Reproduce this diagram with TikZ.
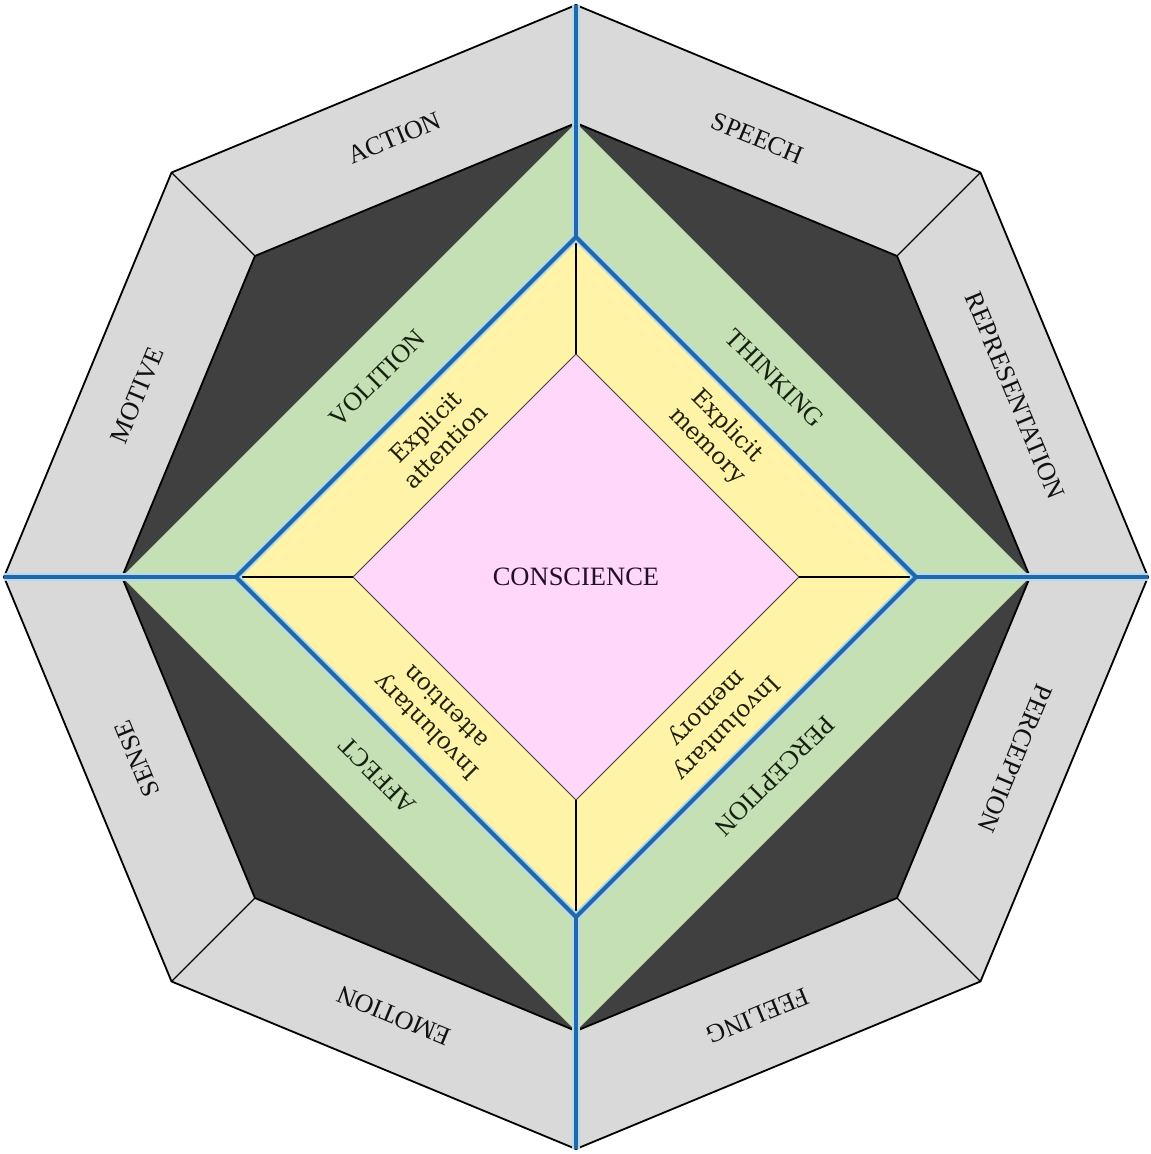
\documentclass[tikz,border=0pt]{standalone}
\usepackage{fontspec}
\setmainfont{Liberation Serif}
\newfontfamily\wideserif{DejaVu Serif}
\definecolor{bandgray}{HTML}{D9D9D9}
\definecolor{darkfill}{HTML}{404040}
\definecolor{greenfill}{HTML}{C5E0B4}
\definecolor{yellowfill}{HTML}{FFF3A8}
\definecolor{pinkfill}{HTML}{FFD7FA}
\definecolor{bluec}{HTML}{2068A6}
\definecolor{haloc}{HTML}{B4D8F2}
\definecolor{textc}{HTML}{111111}
\definecolor{greentext}{HTML}{16200F}
\definecolor{yellowtext}{HTML}{20200A}
\definecolor{pinktext}{HTML}{220F28}
\begin{document}
\begin{tikzpicture}[x=1pt,y=1pt,
  edge/.style={draw=black, line width=1.8pt, line join=miter},
  spoke/.style={draw=black, line width=1.3pt},
  halo/.style={draw=haloc, line width=8pt, line join=miter},
  blueline/.style={draw=bluec, line width=4.2pt, line join=miter},
  outerlab/.style={font=\fontsize{26}{30}\selectfont, text=textc, inner sep=0pt},
  greenlab/.style={font=\fontsize{26}{30}\selectfont, text=greentext, inner sep=0pt},
  yellowlab/.style={font=\wideserif\fontsize{23.5}{28}\selectfont, text=yellowtext, inner sep=0pt, align=center},
  centerlab/.style={font=\fontsize{26.5}{30}\selectfont, text=pinktext, inner sep=0pt}
]
\useasboundingbox (-576,-577) rectangle (575,577);
% named points
\foreach \a in {0,45,...,315} {
  \coordinate (o\a) at (\a:572);
  \coordinate (i\a) at (\a:454);
}
\foreach \a in {0,90,180,270} {
  \coordinate (y\a) at (\a:340);
  \coordinate (p\a) at (\a:223);
}
% outer gray band
\fill[bandgray] (o0) -- (o45) -- (o90) -- (o135) -- (o180) -- (o225) -- (o270) -- (o315) -- cycle;
\draw[edge] (o0) -- (o45) -- (o90) -- (o135) -- (o180) -- (o225) -- (o270) -- (o315) -- cycle;
% dark octagon
\fill[darkfill] (i0) -- (i45) -- (i90) -- (i135) -- (i180) -- (i225) -- (i270) -- (i315) -- cycle;
\draw[edge] (i0) -- (i45) -- (i90) -- (i135) -- (i180) -- (i225) -- (i270) -- (i315) -- cycle;
% diagonal spokes in the band
\foreach \a in {45,135,225,315} { \draw[spoke] (o\a) -- (i\a); }
% green diamond
\fill[greenfill] (i0) -- (i90) -- (i180) -- (i270) -- cycle;
% yellow diamond
\fill[yellowfill] (y0) -- (y90) -- (y180) -- (y270) -- cycle;
% pink diamond
\fill[pinkfill] (p0) -- (p90) -- (p180) -- (p270) -- cycle;
\draw[draw=black!75, line width=1pt] (p0) -- (p90) -- (p180) -- (p270) -- cycle;
% thin lines across yellow band
\foreach \a in {0,90,180,270} { \draw[spoke, line width=1.1pt] (y\a) -- (p\a); }
% blue lines with halo
\foreach \s in {halo, blueline} {
  \foreach \a in {0,90,180,270} { \draw[\s] (o\a) -- (y\a); }
  \draw[\s] (y0) -- (y90) -- (y180) -- (y270) -- cycle;
}
% outer labels
\foreach \a/\t in {112.5/ACTION, 67.5/SPEECH, 22.5/REPRESENTATION, -22.5/PERCEPTION,
                   -67.5/FEELING, -112.5/EMOTION, -157.5/SENSE, 157.5/MOTIVE} {
  \node[outerlab, rotate=\a-90] (out\t) at (\a:475) {\t};
}
% green labels
\node[greenlab, rotate=45]   (gVol)  at (135:281) {VOLITION};
\node[greenlab, rotate=-45]  (gThi)  at (45:281)  {THINKING};
\node[greenlab, rotate=-135] (gPer)  at (-45:281) {PERCEPTION};
\node[greenlab, rotate=135]  (gAff)  at (-135:281) {AFFECT};
% yellow labels
\node[yellowlab, rotate=45]   (yExA) at (135:199)  {Explicit\\attention};
\node[yellowlab, rotate=-45]  (yExM) at (45:199)   {Explicit\\memory};
\node[yellowlab, rotate=-135] (yInM) at (-45:199)  {Involuntary\\memory};
\node[yellowlab, rotate=135]  (yInA) at (-135:199) {Involuntary\\attention};
% center
\node[centerlab] (cons) at (0,0) {CONSCIENCE};
\end{tikzpicture}
\end{document}
